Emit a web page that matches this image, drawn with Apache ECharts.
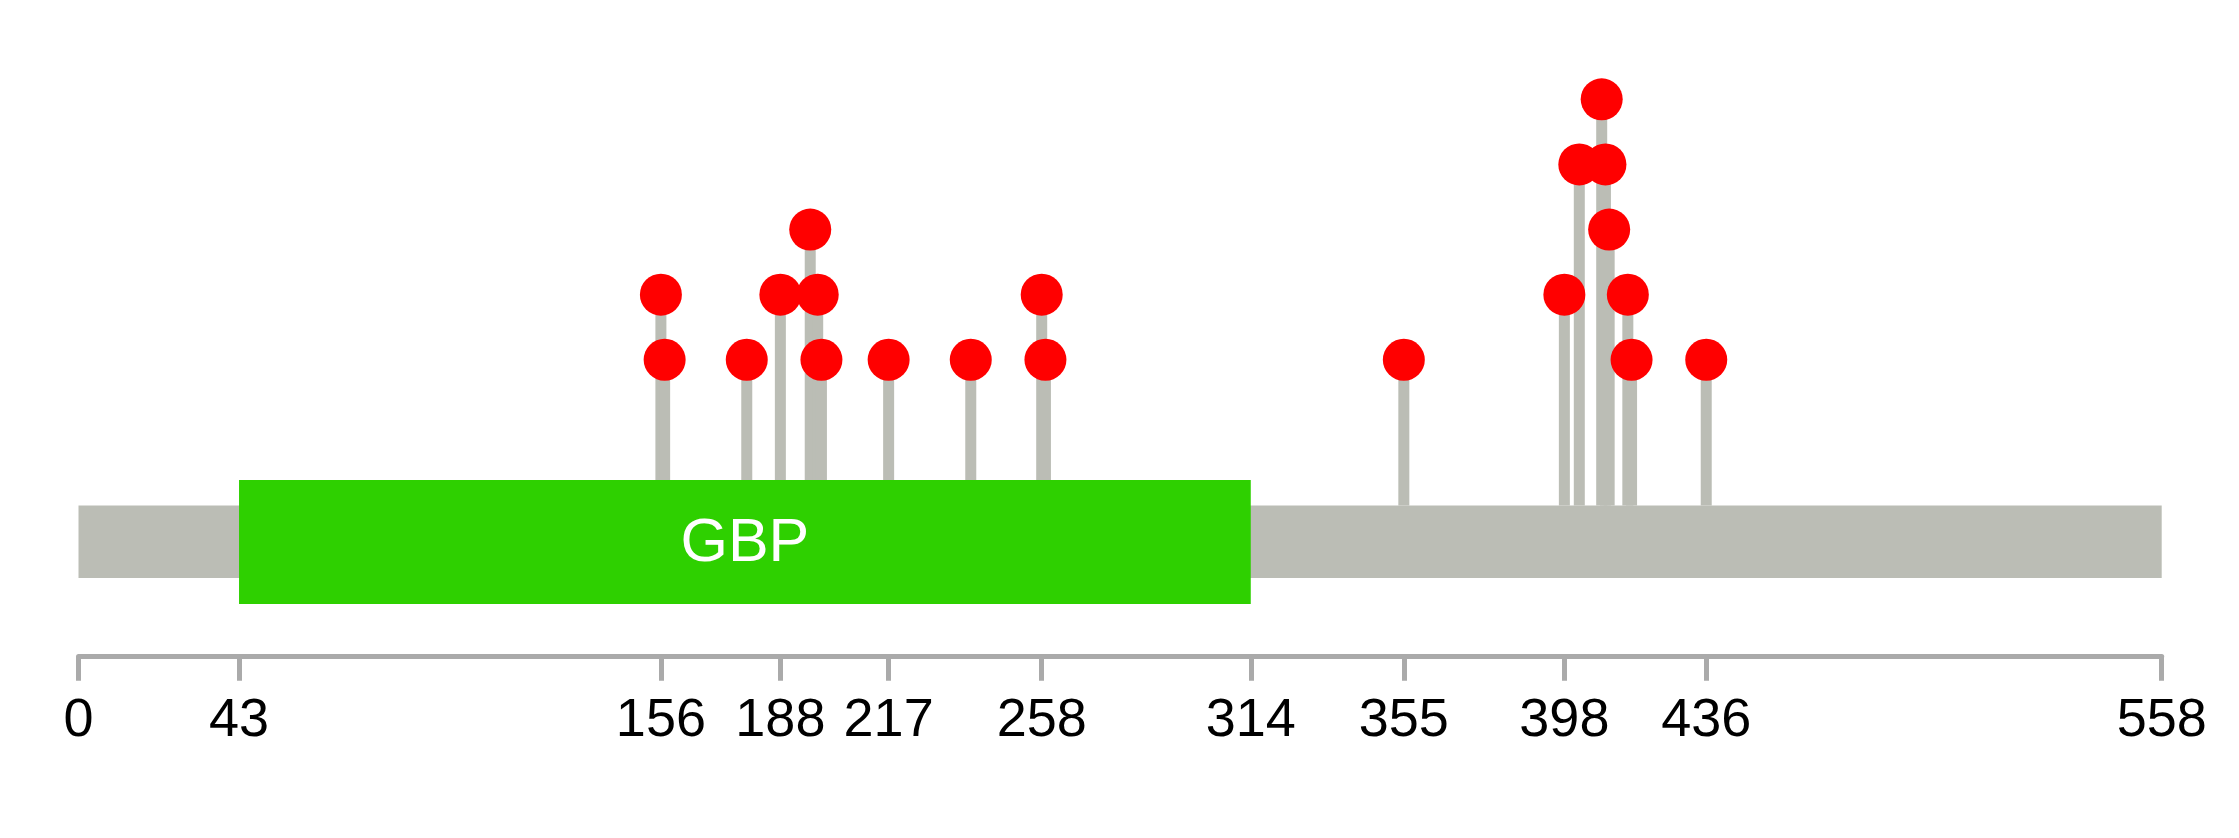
<!DOCTYPE html>
<html>
<head>
<meta charset="utf-8">
<title>GBP lollipop</title>
<script src="https://cdn.jsdelivr.net/npm/echarts@6/dist/echarts.min.js"></script>
<style>
  html, body { margin: 0; padding: 0; background: #fff; }
  #main { width: 2239px; height: 838px; }
</style>
</head>
<body>
<div id="main"></div>
<script>
// protein length and axis ticks
const proteinLength = 558;
const tickValues = [0, 43, 156, 188, 217, 258, 314, 355, 398, 436, 558];

// domains
const domainNames = ['GBP'];
const domainStarts = [43];
const domainEnds = [314];

// mutations: position and count
const mutPositions = [156, 157, 179, 188, 196, 198, 199, 217, 239, 258, 259, 355, 398, 402, 408, 409, 410, 415, 416, 436];
const mutCounts    = [2,   1,   1,   2,   3,   2,   1,   1,   1,   2,   1,   1,   2,   4,   5,   4,   3,   2,   1,   1];

const GRAY = '#BBBDB5';
const GREEN = '#2ED000';
const RED = '#FF0000';
const FONT = 'Liberation Sans, Arial, sans-serif';

// layout in pixels
const BACKBONE_Y = 505.5, BACKBONE_H = 72.5;
const DOMAIN_Y = 480, DOMAIN_H = 124;
const STEM_W = 11;

var chart = echarts.init(document.getElementById('main'));

function renderBackbone(params, api) {
    var a = api.coord([api.value(0), 0]);
    var b = api.coord([api.value(1), 0]);
    return {
        type: 'rect',
        shape: { x: a[0], y: BACKBONE_Y, width: b[0] - a[0], height: BACKBONE_H },
        style: { fill: GRAY }
    };
}

function renderStem(params, api) {
    var p = api.coord([api.value(0), api.value(1)]);
    return {
        type: 'rect',
        shape: { x: p[0] - STEM_W / 2, y: p[1], width: STEM_W, height: BACKBONE_Y - p[1] },
        style: { fill: GRAY }
    };
}

function renderDomain(params, api) {
    var a = api.coord([api.value(0), 0]);
    var b = api.coord([api.value(1), 0]);
    return {
        type: 'group',
        children: [
            {
                type: 'rect',
                shape: { x: a[0], y: DOMAIN_Y, width: b[0] - a[0], height: DOMAIN_H },
                style: { fill: GREEN }
            },
            {
                type: 'text',
                x: (a[0] + b[0]) / 2,
                y: DOMAIN_Y + DOMAIN_H / 2 + 2,
                style: {
                    text: domainNames[params.dataIndex],
                    fill: '#fff',
                    fontSize: 61,
                    fontFamily: FONT,
                    align: 'center',
                    verticalAlign: 'middle'
                }
            }
        ]
    };
}

let stemData = mutPositions.map((p, i) => [p, mutCounts[i]]);
let domainData = domainStarts.map((s, i) => [s, domainEnds[i]]);

let option = {
    animation: false,
    grid: { left: 78.5, right: 77.3, top: 34.2, bottom: 181.3 },
    xAxis: {
        type: 'value',
        min: 0,
        max: proteinLength,
        splitLine: { show: false },
        axisLine: { show: true, onZero: false, lineStyle: { color: '#AAAAAA', width: 5 } },
        axisTick: {
            show: true,
            customValues: tickValues,
            length: 24,
            lineStyle: { color: '#AAAAAA', width: 5 }
        },
        axisLabel: {
            customValues: tickValues,
            fontSize: 54,
            fontFamily: FONT,
            color: '#000',
            margin: 37
        }
    },
    yAxis: {
        type: 'value',
        min: -3.56,
        max: 6,
        show: false
    },
    series: [
        {
            type: 'custom',
            renderItem: renderBackbone,
            data: [[0, proteinLength]],
            z: 1,
            silent: true
        },
        {
            type: 'custom',
            renderItem: renderStem,
            data: stemData,
            z: 2,
            silent: true
        },
        {
            type: 'custom',
            renderItem: renderDomain,
            data: domainData,
            z: 3,
            silent: true
        },
        {
            type: 'scatter',
            data: stemData,
            symbol: 'circle',
            symbolSize: 42,
            itemStyle: { color: RED, opacity: 1 },
            z: 4
        }
    ]
};

chart.setOption(option);
</script>
</body>
</html>
